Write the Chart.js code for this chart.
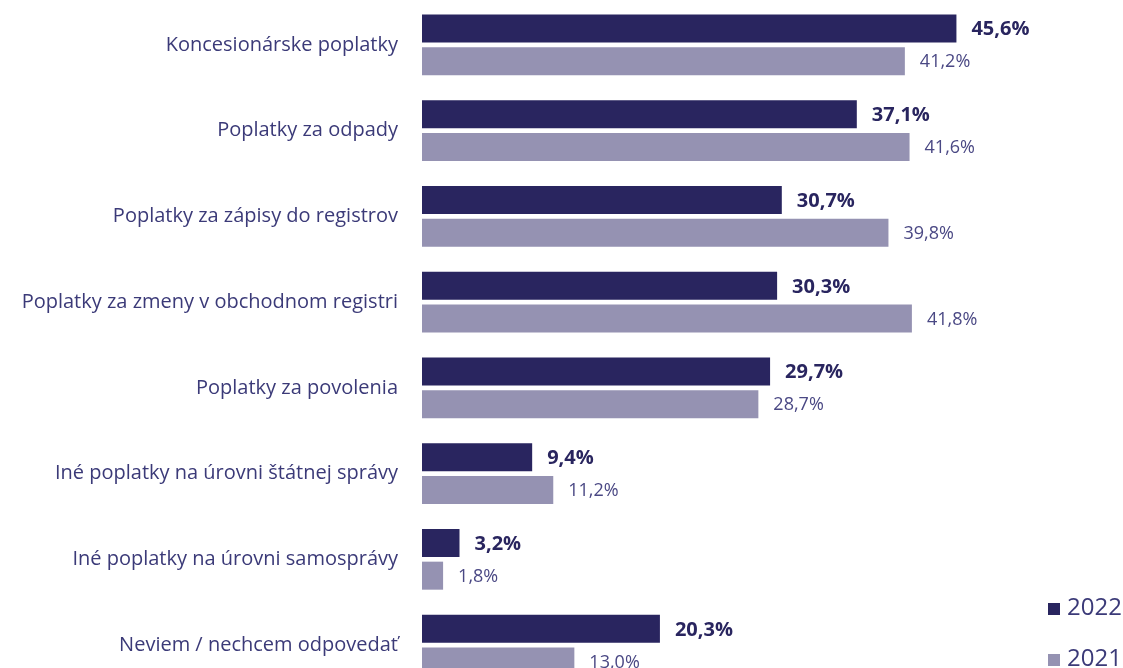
<!DOCTYPE html>
<html>
<head>
<meta charset="utf-8">
<script src="https://cdn.jsdelivr.net/npm/chart.js@4"></script>
<style>
  html, body { margin: 0; padding: 0; background: #fff; overflow: hidden; }
  #wrap { position: relative; width: 1123px; height: 668px; overflow: hidden; }
  #chart { position: absolute; left: 0; top: 0; }
  .leg { position: absolute; left: 1048px; font-family: "Open Sans", sans-serif; font-size: 24px; color: #3b3a78; line-height: 28px; white-space: nowrap; }
  .leg span { display: inline-block; width: 12px; height: 12px; margin-right: 7px; }
</style>
</head>
<body>
<div id="wrap">
  <canvas id="chart" width="1123" height="688"></canvas>
  <div class="leg" style="top:592px"><span style="background:#29255f"></span>2022</div>
  <div class="leg" style="top:643px"><span style="background:#9592b2"></span>2021</div>
</div>
<script>
// ===== DATA =====
const categories = [
  'Koncesionárske poplatky',
  'Poplatky za odpady',
  'Poplatky za zápisy do registrov',
  'Poplatky za zmeny v obchodnom registri',
  'Poplatky za povolenia',
  'Iné poplatky na úrovni štátnej správy',
  'Iné poplatky na úrovni samosprávy',
  'Neviem / nechcem odpovedať'
];
const values2022 = [45.6, 37.1, 30.7, 30.3, 29.7, 9.4, 3.2, 20.3];
const values2021 = [41.2, 41.6, 39.8, 41.8, 28.7, 11.2, 1.8, 13.0];
const seriesNames = ['2022', '2021'];

const DARK = '#29255f';
const LIGHT = '#9592b2';
const TEXT = '#3b3a78';
const FONT = '"Open Sans", sans-serif';

// percent with a decimal comma, like the original
function fmt(v) {
  return v.toFixed(1).replace('.', ',') + '%';
}

// draws the value next to the end of every bar
const valueLabels = {
  id: 'valueLabels',
  afterDatasetsDraw(chart) {
    const ctx = chart.ctx;
    ctx.save();
    ctx.textBaseline = 'middle';
    ctx.textAlign = 'left';
    chart.data.datasets.forEach(function(ds, i) {
      const meta = chart.getDatasetMeta(i);
      meta.data.forEach(function(bar, j) {
        if (i === 0) {
          ctx.font = 'bold 20px ' + FONT;
          ctx.fillStyle = DARK;
        } else {
          ctx.font = '18px ' + FONT;
          ctx.fillStyle = '#4a4884';
        }
        ctx.fillText(fmt(ds.data[j]), bar.x + 15, bar.y + 1);
      });
    });
    ctx.restore();
  }
};

new Chart(document.getElementById('chart'), {
  type: 'bar',
  data: {
    labels: categories,
    datasets: [
      { label: seriesNames[0], data: values2022, backgroundColor: DARK },
      { label: seriesNames[1], data: values2021, backgroundColor: LIGHT }
    ]
  },
  options: {
    indexAxis: 'y',
    responsive: false,
    animation: false,
    categoryPercentage: 0.76,
    barPercentage: 0.86,
    layout: { padding: { top: 2, right: 115, bottom: 0, left: 0 } },
    scales: {
      x: { display: false, min: 0, max: 50 },
      y: {
        afterFit: function(scale) {
          scale.width = 422;
          // keep the category bands flush with the canvas edges
          scale.paddingTop = 0;
          scale.paddingBottom = 0;
        },
        grid: { display: false, drawTicks: false },
        border: { display: false },
        ticks: {
          padding: 24,
          color: TEXT,
          font: { family: FONT, size: 20 }
        }
      }
    },
    plugins: {
      legend: { display: false },
      tooltip: { enabled: false }
    }
  },
  plugins: [valueLabels]
});
</script>
</body>
</html>
